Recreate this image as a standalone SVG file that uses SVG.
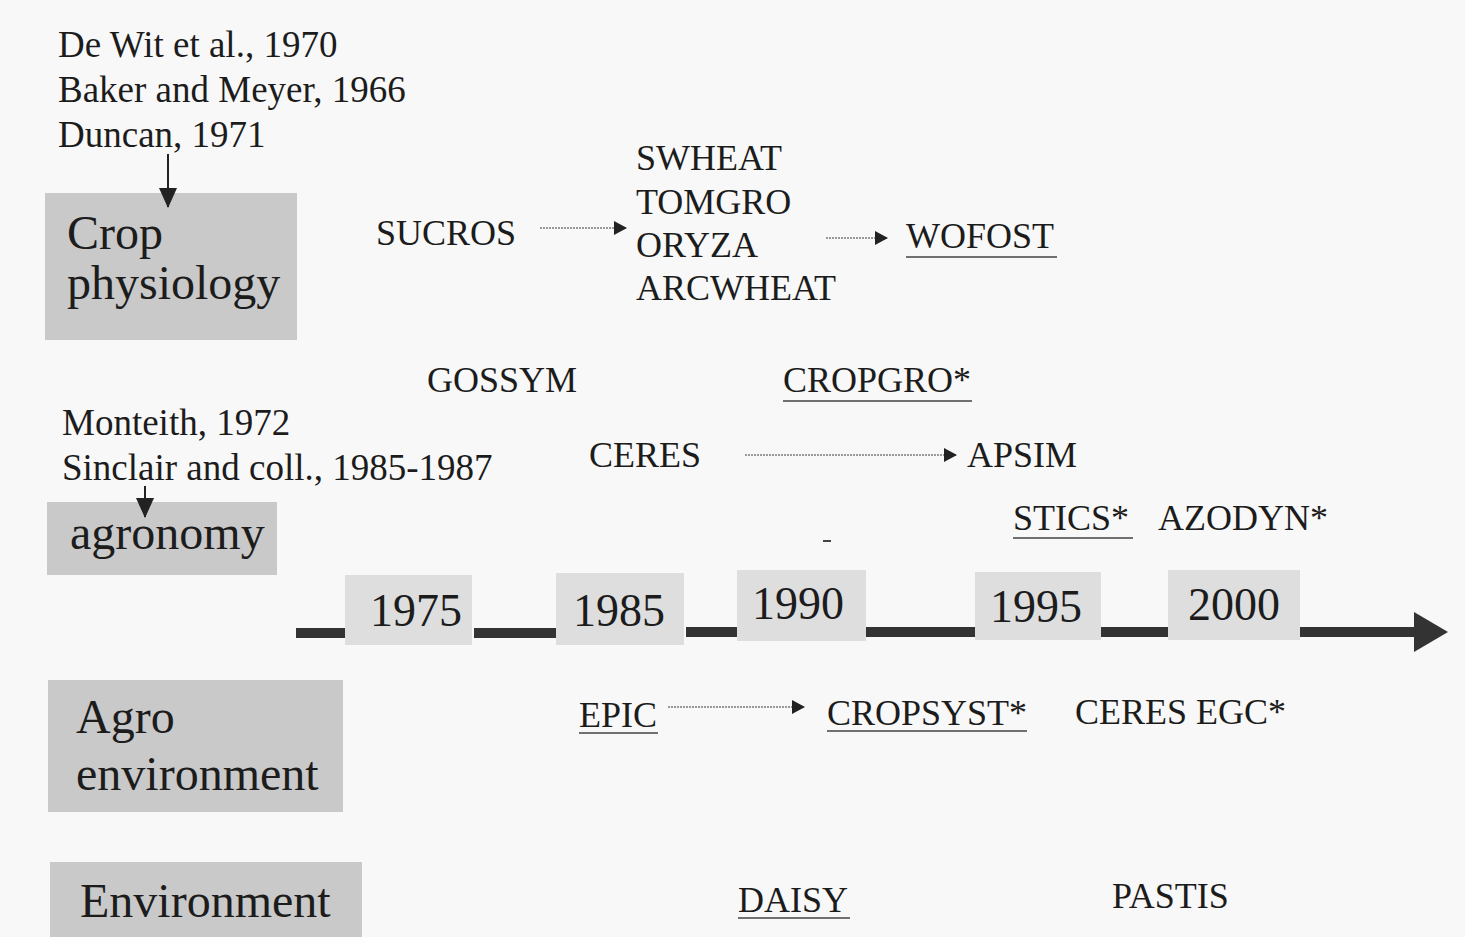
<svg xmlns="http://www.w3.org/2000/svg" width="1465" height="937" viewBox="0 0 1465 937">
<style>
text{font-family:"Liberation Serif","Times New Roman",serif;fill:#1c1c1c}
.m{font-size:36px}
.r{font-size:37px}
.c{font-size:48px}
.y{font-size:46px}
.cat{fill:#c9c9c9}
.yb{fill:#dedede}
.ul{stroke:#707070;stroke-width:2}
.dot{stroke:#7a7a7a;stroke-width:1.6;stroke-dasharray:2 1;fill:none}
.bar{fill:#333}
</style>
<defs>
<marker id="ah" markerWidth="13" markerHeight="14" refX="12" refY="7" orient="auto" markerUnits="userSpaceOnUse">
<path d="M0,0 L13,7 L0,14 Z" fill="#222"/>
</marker>
<marker id="ahd" markerWidth="20" markerHeight="18" refX="19" refY="9" orient="auto" markerUnits="userSpaceOnUse">
<path d="M0,0 L20,9 L0,18 Z" fill="#222"/>
</marker>
</defs>
<rect width="1465" height="937" fill="#f8f8f8"/>

<g id="refs1">
<text class="r" x="58" y="57">De Wit et al., 1970</text>
<text class="r" x="58" y="102">Baker and Meyer, 1966</text>
<text class="r" x="58" y="147">Duncan, 1971</text>
</g>
<g id="crop-physiology">
<rect class="cat" x="45" y="193" width="252" height="147"/>
<text class="c" x="67" y="249">Crop</text>
<text class="c" x="67" y="299">physiology</text>
</g>
<g id="refs2">
<text class="r" x="62" y="435">Monteith, 1972</text>
<text class="r" x="62" y="480">Sinclair and coll., 1985-1987</text>
</g>
<g id="agronomy">
<rect class="cat" x="47" y="502" width="230" height="73"/>
<text class="c" x="70" y="549">agronomy</text>
</g>
<g id="agro-environment">
<rect class="cat" x="48" y="680" width="295" height="132"/>
<text class="c" x="76" y="733">Agro</text>
<text class="c" x="76" y="790">environment</text>
</g>
<g id="environment">
<rect class="cat" x="50" y="862" width="312" height="75"/>
<text class="c" x="80" y="917">Environment</text>
</g>

<g id="models">
<text class="m" x="376" y="245">SUCROS</text>
<text class="m" x="636" y="170">SWHEAT</text>
<text class="m" x="636" y="214">TOMGRO</text>
<text class="m" x="636" y="257">ORYZA</text>
<text class="m" x="636" y="300">ARCWHEAT</text>
<text class="m" x="906" y="248">WOFOST</text>
<line class="ul" x1="906" y1="257" x2="1057" y2="257"/>
<text class="m" x="427" y="392">GOSSYM</text>
<text class="m" x="783" y="392">CROPGRO*</text>
<line class="ul" x1="783" y1="401" x2="972" y2="401"/>
<text class="m" x="589" y="467">CERES</text>
<text class="m" x="967" y="467">APSIM</text>
<text class="m" x="1013" y="530">STICS*</text>
<line class="ul" x1="1013" y1="538" x2="1133" y2="538"/>
<text class="m" x="1158" y="530">AZODYN*</text>
<text class="m" x="579" y="727">EPIC</text>
<line class="ul" x1="579" y1="733" x2="658" y2="733"/>
<text class="m" x="827" y="725">CROPSYST*</text>
<line class="ul" x1="827" y1="731" x2="1027" y2="731"/>
<text class="m" x="1075" y="724">CERES EGC*</text>
<text class="m" x="738" y="912">DAISY</text>
<line class="ul" x1="738" y1="918" x2="850" y2="918"/>
<text class="m" x="1112" y="908">PASTIS</text>
<rect x="823" y="540" width="8" height="2" fill="#444"/>
</g>

<g id="timeline">
<rect class="yb" x="345" y="575" width="127" height="70"/>
<rect class="yb" x="556" y="573" width="128" height="72"/>
<rect class="yb" x="737" y="570" width="129" height="71"/>
<rect class="yb" x="975" y="572" width="126" height="68"/>
<rect class="yb" x="1168" y="570" width="132" height="70"/>
<rect class="bar" x="296" y="628" width="49" height="10"/>
<rect class="bar" x="474" y="628" width="82" height="10"/>
<rect class="bar" x="686" y="627" width="51" height="10"/>
<rect class="bar" x="866" y="627" width="109" height="10"/>
<rect class="bar" x="1101" y="627" width="67" height="10"/>
<rect class="bar" x="1300" y="627" width="118" height="10"/>
<path class="bar" d="M1414,612 L1448,632 L1414,652 Z"/>
<text class="y" x="370" y="626">1975</text>
<text class="y" x="573" y="626">1985</text>
<text class="y" x="752" y="619">1990</text>
<text class="y" x="990" y="622">1995</text>
<text class="y" x="1188" y="620">2000</text>
</g>

<g id="connectors">
<line x1="168" y1="154" x2="168" y2="207" stroke="#222" stroke-width="2" marker-end="url(#ahd)"/>
<line x1="145" y1="486" x2="145" y2="517" stroke="#222" stroke-width="2" marker-end="url(#ahd)"/>
<line class="dot" x1="540" y1="228" x2="626" y2="228" marker-end="url(#ah)"/>
<line class="dot" x1="826" y1="238" x2="887" y2="238" marker-end="url(#ah)"/>
<line class="dot" x1="745" y1="455" x2="956" y2="455" marker-end="url(#ah)"/>
<line class="dot" x1="668" y1="707" x2="804" y2="707" marker-end="url(#ah)"/>
</g>
</svg>
